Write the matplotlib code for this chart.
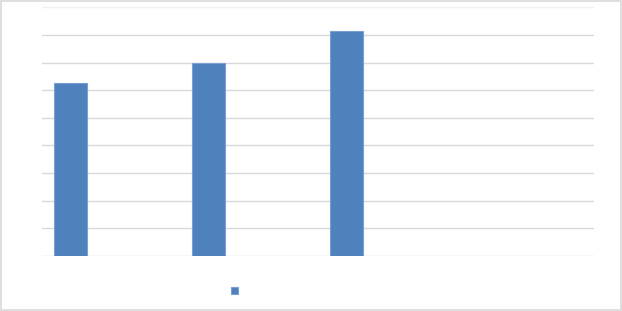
import numpy as np
import matplotlib
matplotlib.use("Agg")
import matplotlib.pyplot as plt
from matplotlib.patches import Rectangle

# chart data (no labels shown in the original)
categories = ["", "", "", ""]
values = [6.27, 7.0, 8.14, np.nan]
series_name = ""
y_max = 9
grid_ticks = list(range(0, y_max + 1))


def main():
    fig = plt.figure(figsize=(6.22, 3.11), dpi=100)
    fig.patch.set_facecolor("white")

    # light grey frame round the whole chart
    fig.add_artist(Rectangle((0.001, 0.002), 0.997, 0.995, transform=fig.transFigure,
                             fill=False, edgecolor="#d9d9d9", linewidth=1.2))

    ax = fig.add_axes([42 / 622, (311 - 256) / 311, (594 - 42) / 622, (256 - 7.3) / 311])
    x = np.arange(len(categories))
    bars = ax.bar(x - 0.294, values, width=0.235, color="#4f81bd",
                  edgecolor="#7a9fd2", linewidth=0.8, zorder=3, label=series_name)

    ax.set_xlim(-0.5, len(categories) - 0.5)
    ax.set_ylim(0, y_max)
    for t in grid_ticks:
        c = "#efefef" if t == y_max else "#d9d9d9"
        ax.axhline(t, color=c, linewidth=1.0, zorder=1)

    ax.set_xticks([])
    ax.set_yticks([])
    for s in ax.spines.values():
        s.set_visible(False)

    fig.legend(handles=[bars], labels=[series_name], loc="center",
               bbox_to_anchor=(234.8 / 622, (311 - 291) / 311),
               frameon=False, fontsize=6.8, handlelength=0.7, handleheight=0.7,
               handletextpad=0, borderpad=0, borderaxespad=0)

    fig.savefig("out.png", dpi=100)


if __name__ == "__main__":
    main()
